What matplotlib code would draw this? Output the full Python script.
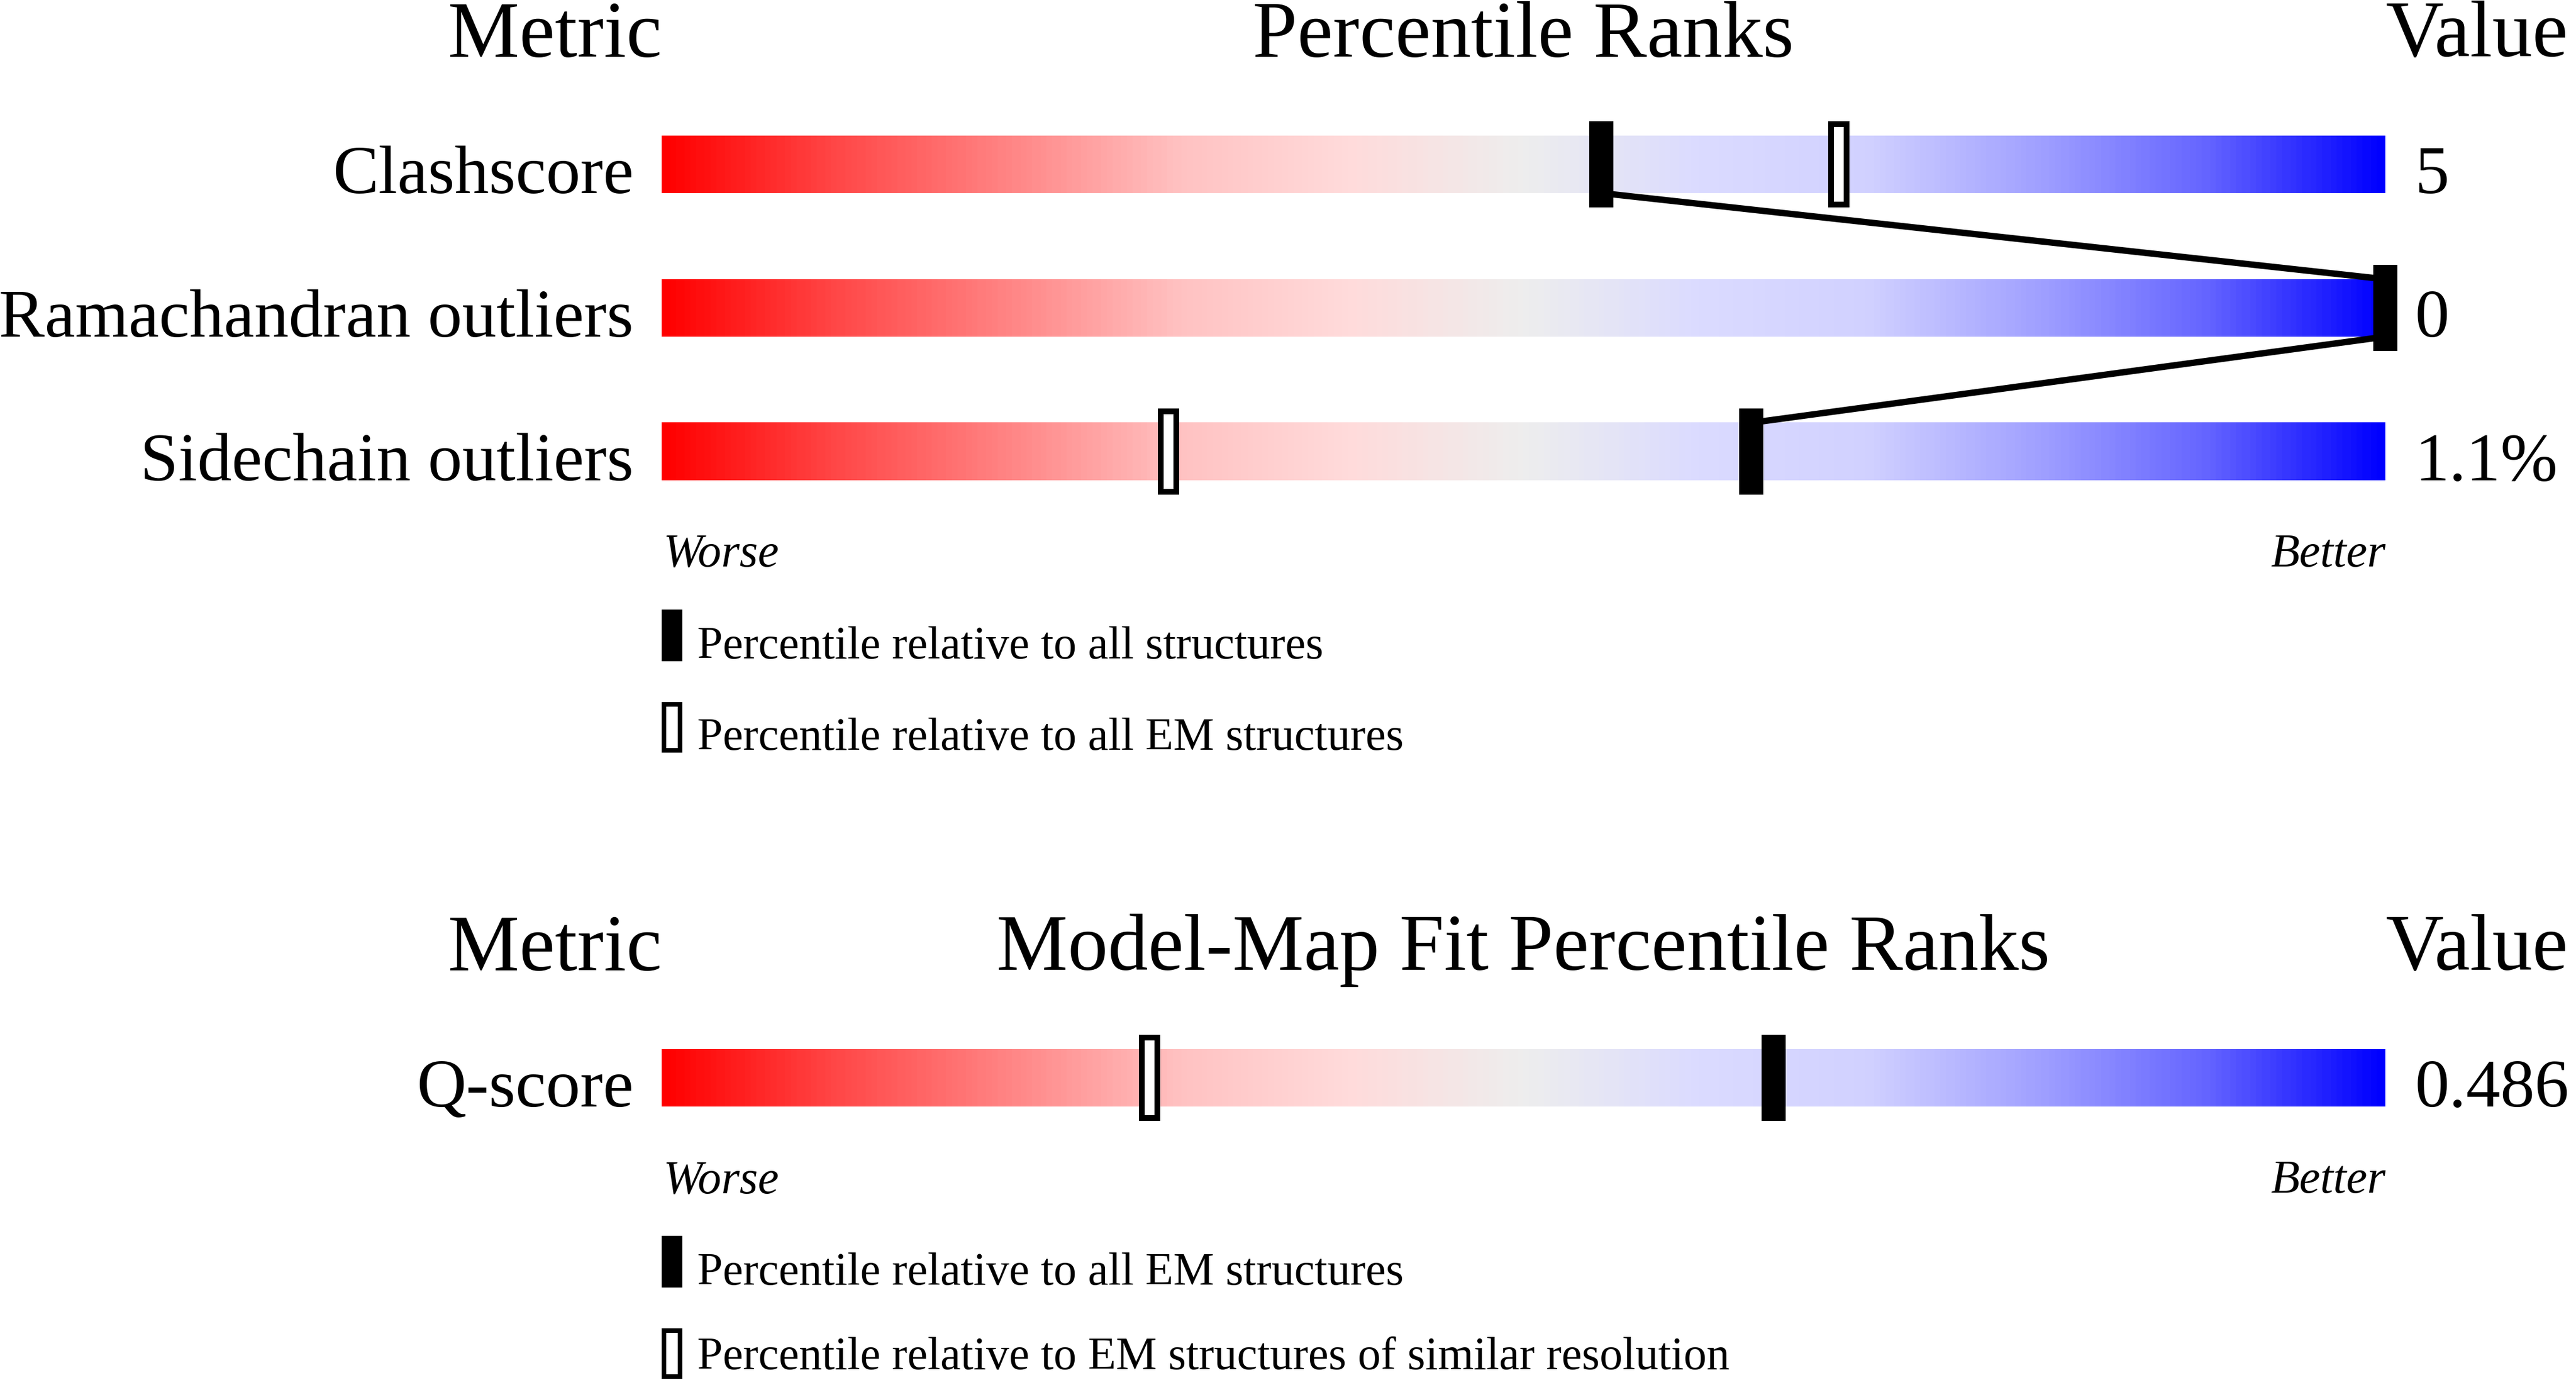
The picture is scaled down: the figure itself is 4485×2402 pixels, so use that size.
import numpy as np
import matplotlib
matplotlib.use('Agg')
import matplotlib.pyplot as plt
from matplotlib.colors import LinearSegmentedColormap
from matplotlib.patches import Rectangle

plt.rcParams['font.family'] = ['Liberation Serif', 'DejaVu Serif']

# geometry / model quality panel
geo_metrics = ['Clashscore', 'Ramachandran outliers', 'Sidechain outliers']
geo_values = ['5', '0', '1.1%']
geo_pct_all = [54.5, 100.0, 63.2]
geo_pct_em = [68.3, 100.0, 29.4]
geo_legend = ['Percentile relative to all structures',
              'Percentile relative to all EM structures']

# model-map fit panel
fit_metrics = ['Q-score']
fit_values = ['0.486']
fit_pct_em = [64.5]
fit_pct_res = [28.3]
fit_legend = ['Percentile relative to all EM structures',
              'Percentile relative to EM structures of similar resolution']

# slider colours, worse (red) -> better (blue)
stops = [(0.0, (1.0, 0.0, 0.0)),
         (0.1, (1.0, 0.28, 0.28)),
         (0.2, (1.0, 0.52, 0.52)),
         (0.3, (1.0, 0.76, 0.76)),
         (0.4, (1.0, 0.86, 0.86)),
         (0.5, (0.933, 0.933, 0.933)),
         (0.6, (0.86, 0.86, 1.0)),
         (0.7, (0.82, 0.82, 1.0)),
         (0.8, (0.63, 0.63, 1.0)),
         (0.9, (0.39, 0.39, 1.0)),
         (1.0, (0.0, 0.0, 1.0))]
cmap = LinearSegmentedColormap.from_list('slider', stops)

W, H = 4485, 2402
fig = plt.figure(figsize=(W / 100, H / 100), dpi=100)

BAR_H = 0.2      # half height of bar (row units)
MK_W = 1.4       # filled marker width (percent units)
MK_H = 0.3       # half height of markers
OPEN_W = 0.9
OPEN_H = 0.28
LW_OPEN = 7.2
LABEL_FS = 86
HEAD_FS = 100.5
SMALL_FS = 59
LEG_FS = 57.5


def filled(ax, x, y, z=5):
    ax.add_patch(Rectangle((x - MK_W / 2, y - MK_H), MK_W, 2 * MK_H, fc='black',
                           ec='none', zorder=z, clip_on=False))


def hollow(ax, x, y, z=4):
    ax.add_patch(Rectangle((x - OPEN_W / 2, y - OPEN_H), OPEN_W, 2 * OPEN_H,
                           fc='white', ec='black', lw=LW_OPEN, zorder=z,
                           clip_on=False))


def panel(ax, title, metrics, values, pct_a, pct_b, legend, leg2_off=2.075):
    n = len(metrics)
    grad = np.linspace(0, 1, 600).reshape(1, -1)
    for i, (m, v) in enumerate(zip(metrics, values)):
        ax.imshow(grad, cmap=cmap, aspect='auto',
                  extent=(0, 100, i + BAR_H, i - BAR_H), zorder=1)
        ax.text(-1.63, i + BAR_H, m, ha='right', va='baseline', fontsize=LABEL_FS)
        ax.text(101.73, i + BAR_H, v, ha='left', va='baseline', fontsize=LABEL_FS)
        hollow(ax, pct_b[i], i)
        filled(ax, pct_a[i], i)
    # connecting line between filled markers
    for i in range(n - 1):
        ax.plot([pct_a[i], pct_a[i + 1]], [i + BAR_H, i + 1 - BAR_H],
                color='black', lw=8, zorder=3, solid_capstyle='butt',
                clip_on=False)
    ax.set_xlim(0, 100)
    ax.set_ylim(n - 0.5, -0.5)
    ax.axis('off')
    # headers
    ax.text(0, -0.75, 'Metric', ha='right', va='baseline', fontsize=HEAD_FS)
    ax.text(50, -0.75, title, ha='center', va='baseline', fontsize=HEAD_FS)
    ax.text(100, -0.75, 'Value', ha='left', va='baseline', fontsize=HEAD_FS)
    last = n - 1
    ax.text(0.1, last + 0.8, 'Worse', ha='left', va='baseline',
            fontsize=SMALL_FS, style='italic')
    ax.text(100, last + 0.8, 'Better', ha='right', va='baseline',
            fontsize=SMALL_FS, style='italic')
    # legend
    y1 = last + 1.1
    ax.add_patch(Rectangle((0, y1), 1.2, 0.36, fc='black', ec='none',
                           clip_on=False))
    ax.text(2.07, last + 1.44, legend[0], ha='left', va='baseline', fontsize=LEG_FS)
    y2 = last + 1.74
    ax.add_patch(Rectangle((0.12, y2 + 0.02), 0.96, 0.32, fc='white', ec='black',
                           lw=LW_OPEN * 0.8, clip_on=False))
    ax.text(2.07, last + leg2_off, legend[1], ha='left', va='baseline',
            fontsize=LEG_FS)


x0 = 1152 / W
wx = 3001 / W

ax1 = fig.add_axes([x0, 1 - 911 / H, wx, 750 / H])
panel(ax1, 'Percentile Ranks', geo_metrics, geo_values,
      geo_pct_all, geo_pct_em, geo_legend)

ax2 = fig.add_axes([x0, 1 - 2001 / H, wx, 250 / H])
panel(ax2, 'Model-Map Fit Percentile Ranks', fit_metrics, fit_values,
      fit_pct_em, fit_pct_res, fit_legend, leg2_off=2.03)

fig.savefig('out.png', dpi=100, facecolor='white')
